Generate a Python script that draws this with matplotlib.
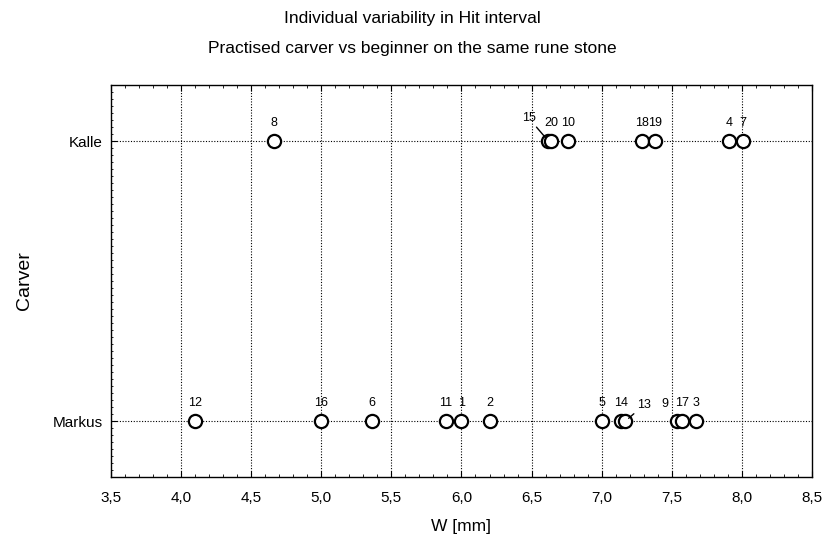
import matplotlib
matplotlib.use("Agg")
import matplotlib.pyplot as plt
from matplotlib.ticker import MultipleLocator, FixedLocator, FuncFormatter

plt.rcParams['font.family'] = ['Liberation Sans', 'DejaVu Sans']

carvers = ["Markus", "Kalle"]

markus_ids = [12, 16, 6, 11, 1, 2, 5, 14, 13, 9, 17, 3]
markus_w = [4.10, 5.00, 5.36, 5.89, 6.00, 6.20, 7.00, 7.14, 7.17, 7.54, 7.57, 7.67]

kalle_ids = [8, 15, 20, 10, 18, 19, 4, 7]
kalle_w = [4.66, 6.62, 6.64, 6.76, 7.29, 7.38, 7.91, 8.01]

x_ticks = [3.5, 4.0, 4.5, 5.0, 5.5, 6.0, 6.5, 7.0, 7.5, 8.0, 8.5]

# label offsets in points (layout only); leader lines drawn for some
label_offsets = {("Kalle", 15): (-14, 12), ("Markus", 13): (13, 7), ("Markus", 9): (-9, 8)}
leaders = {("Kalle", 15), ("Markus", 13)}

fig = plt.figure(figsize=(8.25, 5.36), dpi=100)
ax = fig.add_axes([0.1345, 0.110, 0.8497, 0.7314])

series = [("Markus", 0, markus_ids, markus_w), ("Kalle", 1, kalle_ids, kalle_w)]

for name, ypos, ids, ws in series:
    ax.axhline(ypos, color='black', lw=0.8, ls=(0, (1, 1.5)), zorder=1)
    ax.plot(ws, [ypos] * len(ws), ls='none', marker='o', ms=9.5,
            mfc='white', mec='black', mew=1.6, zorder=3)
    for i, w in zip(ids, ws):
        off = label_offsets.get((name, i), (0, 9))
        if (name, i) in leaders:
            ax.annotate(str(i), xy=(w, ypos), xytext=off, textcoords='offset points',
                        ha='center', va='bottom', fontsize=9,
                        arrowprops=dict(arrowstyle='-', color='black', lw=1.0,
                                        shrinkA=0, shrinkB=3), zorder=4)
        else:
            ax.annotate(str(i), xy=(w, ypos), xytext=off, textcoords='offset points',
                        ha='center', va='bottom', fontsize=9, zorder=4)

ax.set_xlim(3.5, 8.5)
ax.set_ylim(-0.2, 1.2)
ax.xaxis.set_major_locator(FixedLocator(x_ticks))
ax.xaxis.set_minor_locator(MultipleLocator(0.1))
ax.xaxis.set_major_formatter(FuncFormatter(lambda v, p: (f"{v:.1f}").replace('.', ',')))
ax.set_yticks([0, 1])
ax.set_yticklabels(carvers)
ax.yaxis.set_minor_locator(MultipleLocator(0.025))

for v in x_ticks[1:-1]:
    ax.axvline(v, color='black', lw=0.8, ls=(0, (1, 1.5)), zorder=1)

ax.tick_params(axis='x', which='both', direction='in', top=True, bottom=True)
ax.tick_params(axis='x', which='major', length=4, labelsize=11, pad=10)
ax.tick_params(axis='x', which='minor', length=2)
ax.tick_params(axis='y', which='major', direction='in', length=4, labelsize=11, pad=6)
ax.tick_params(axis='y', which='minor', direction='in', length=1.5)

for s in ax.spines.values():
    s.set_linewidth(1.0)

ax.set_xlabel("W [mm]", fontsize=12.5, labelpad=10)
ax.set_ylabel("Carver", fontsize=14, labelpad=14)

fig.text(0.5, 0.966, "Individual variability in Hit interval", ha='center', va='center', fontsize=12.5)
fig.text(0.5, 0.91, "Practised carver vs beginner on the same rune stone", ha='center', va='center', fontsize=12.5)

fig.savefig("out.png", dpi=100)
